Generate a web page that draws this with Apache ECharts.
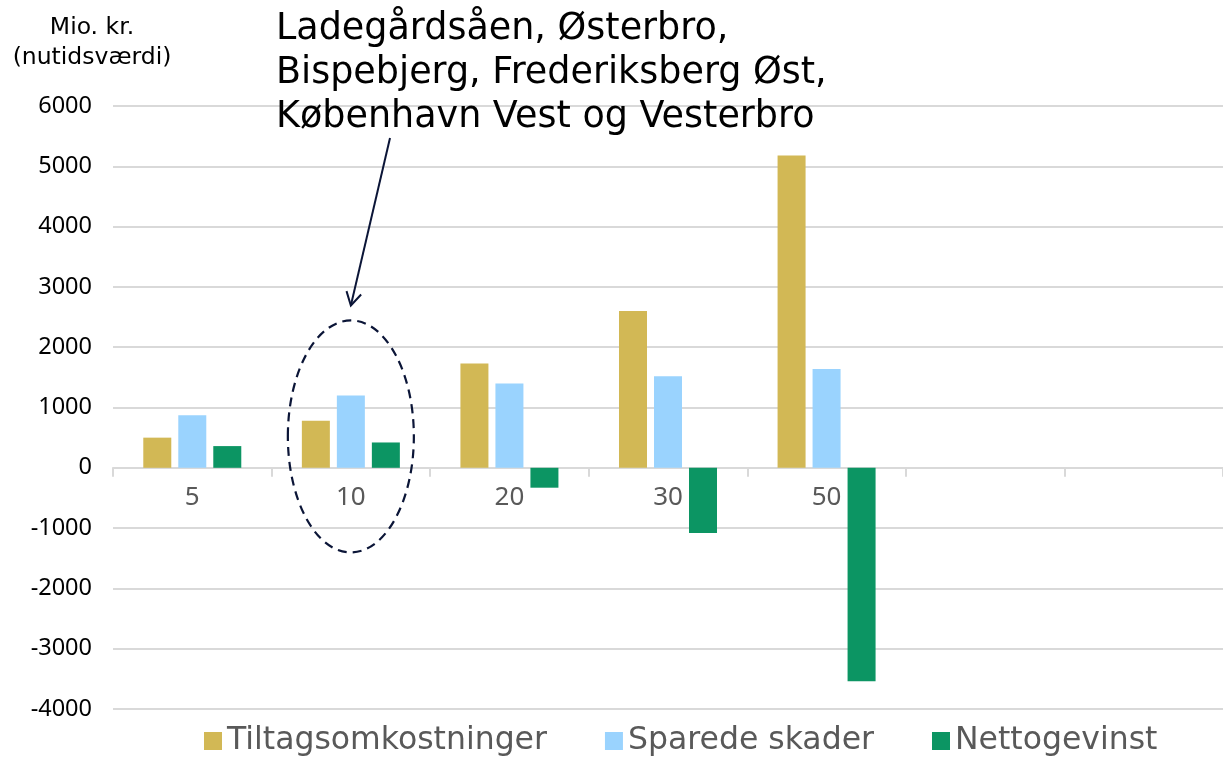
<!DOCTYPE html>
<html>
<head>
<meta charset="utf-8">
<script src="https://cdn.jsdelivr.net/npm/echarts@6/dist/echarts.min.js"></script>
<style>
html,body{margin:0;padding:0;background:#fff;}
#chart{width:1223px;height:762px;}
</style>
</head>
<body>
<div id="chart"></div>
<script>
// ---- data ----
var categories = ['5', '10', '20', '30', '50', '', ''];
var tiltagsomkostninger = [500, 780, 1730, 2600, 5180];
var sparedeSkader = [870, 1200, 1400, 1520, 1640];
var nettogevinst = [360, 420, -330, -1080, -3540];
var seriesNames = ['Tiltagsomkostninger', 'Sparede skader', 'Nettogevinst'];
var yTicks = { min: -4000, max: 6000, interval: 1000 };
var yAxisTitle = 'Mio. kr.\n(nutidsværdi)';
var annotationText = 'Ladegårdsåen, Østerbro,\nBispebjerg, Frederiksberg Øst,\nKøbenhavn Vest og Vesterbro';
var annotatedCategory = '10';

var FONT = '"Noto Sans", "Open Sans", sans-serif';
var WIDE = '"DejaVu Sans", "Noto Sans", sans-serif';
var colors = ['#D2B855', '#9AD3FE', '#0C9563'];

var gridTop = 106, gridBottom = 53, H = 762;
var gridHeight = H - gridTop - gridBottom;
var zeroOffset = -(0 - yTicks.min) / (yTicks.max - yTicks.min) * gridHeight;

var chart = echarts.init(document.getElementById('chart'));

function bar(name, data, color) {
  return {
    name: name, type: 'bar', data: data,
    barWidth: 28, barGap: '25%',
    itemStyle: { color: color },
    emphasis: { disabled: true }
  };
}

var option = {
  animation: false,
  textStyle: { fontFamily: FONT },
  grid: { left: 113, right: 0, top: gridTop, bottom: gridBottom, containLabel: false },
  legend: {
    left: 204, top: 725, padding: 0,
    itemWidth: 18, itemHeight: 18, itemGap: 58,
    icon: 'rect',
    textStyle: { fontSize: 31.5, color: '#595959', fontFamily: WIDE },
    data: seriesNames
  },
  xAxis: {
    type: 'category', data: categories,
    boundaryGap: true,
    offset: zeroOffset,
    axisLine: { onZero: false, lineStyle: { color: '#D9D9D9', width: 2 } },
    axisTick: { show: true, length: 9, lineStyle: { color: '#D9D9D9', width: 2 } },
    axisLabel: { fontSize: 26, color: '#595959', margin: 17, fontFamily: FONT },
    splitLine: { show: false }
  },
  yAxis: {
    type: 'value', min: yTicks.min, max: yTicks.max, interval: yTicks.interval,
    axisLine: { show: false }, axisTick: { show: false },
    axisLabel: { fontSize: 23.5, color: '#000', margin: 21, fontFamily: FONT, formatter: function (v) { return String(v); } },
    splitLine: { lineStyle: { color: '#D9D9D9', width: 2 } }
  },
  series: [
    bar(seriesNames[0], tiltagsomkostninger, colors[0]),
    bar(seriesNames[1], sparedeSkader, colors[1]),
    bar(seriesNames[2], nettogevinst, colors[2])
  ]
};
chart.setOption(option);

// ---- annotation positioned from the axis scales ----
var c = chart.convertToPixel({ xAxisIndex: 0, yAxisIndex: 0 }, [annotatedCategory, 520]);
var cx = c[0], cy = c[1];
var rx = 63, ry = 116;
var tip = [cx, cy - ry - 15];
var start = [390, 138];
var dx = tip[0] - start[0], dy = tip[1] - start[1];
var len = Math.sqrt(dx * dx + dy * dy);
var ux = -dx / len, uy = -dy / len;
function rot(x, y, a) { return [x * Math.cos(a) - y * Math.sin(a), x * Math.sin(a) + y * Math.cos(a)]; }
var w1 = rot(ux, uy, Math.PI / 6), w2 = rot(ux, uy, -Math.PI / 6);
var ah = 15;

chart.setOption({
  graphic: [
    {
      type: 'text', x: 92, y: 13,
      style: { text: yAxisTitle, fontSize: 23.5, lineHeight: 30, fill: '#000', align: 'center', verticalAlign: 'top', fontFamily: WIDE }
    },
    {
      type: 'text', x: 276, y: 8,
      style: { text: annotationText, fontSize: 36.5, lineHeight: 44, fill: '#000', align: 'left', verticalAlign: 'top', fontFamily: WIDE }
    },
    {
      type: 'line', shape: { x1: start[0], y1: start[1], x2: tip[0], y2: tip[1] },
      style: { stroke: '#0B1537', lineWidth: 2 }
    },
    {
      type: 'polyline', shape: { points: [[tip[0] + w1[0] * ah, tip[1] + w1[1] * ah], tip, [tip[0] + w2[0] * ah, tip[1] + w2[1] * ah]] },
      style: { stroke: '#0B1537', lineWidth: 2, fill: null }
    },
    {
      type: 'ellipse', shape: { cx: cx, cy: cy, rx: rx, ry: ry },
      style: { stroke: '#0B1537', lineWidth: 2.2, fill: null, lineDash: [9, 6] }, z: 100
    }
  ]
});
</script>
</body>
</html>
